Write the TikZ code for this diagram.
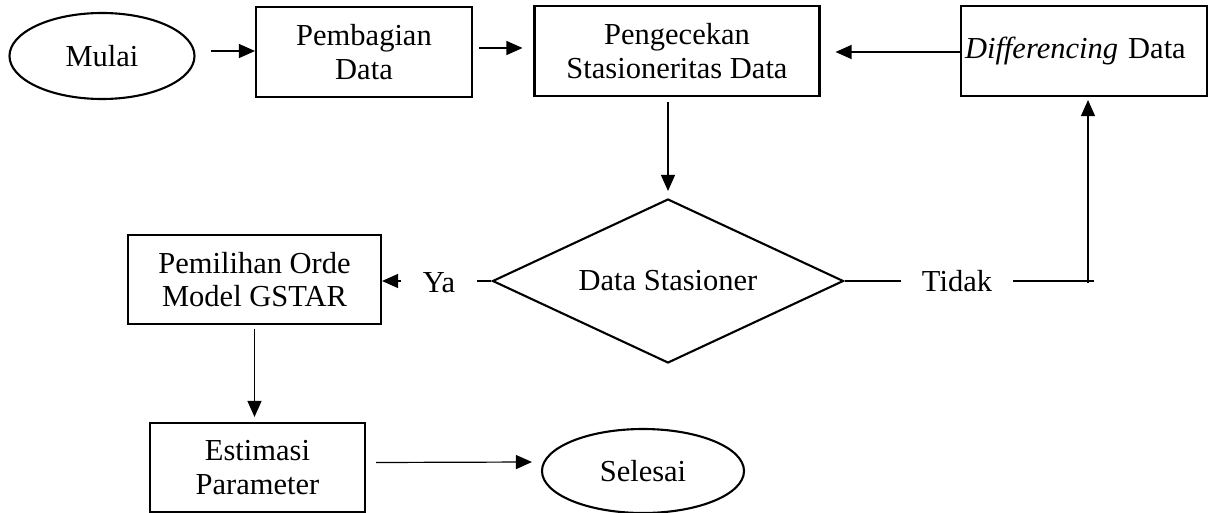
\documentclass[tikz,border=0pt]{standalone}
\usepackage{fontspec}
\setmainfont{Liberation Serif}
\usetikzlibrary{shapes.geometric,arrows.meta,calc}
\tikzset{
  txt/.style={font=\fontsize{30.5}{33.5}\selectfont, align=center, inner sep=0pt},
  procbox/.style={txt, draw, line width=2.1pt, rectangle},
  termin/.style={txt, draw, line width=2.1pt, ellipse},
  decis/.style={txt, draw, line width=2.1pt, diamond, shape aspect=2.14},
  conn/.style={line width=1.2pt},
  arr/.style={conn, -{Triangle[length=16pt,width=14pt]}},
  lbl/.style={txt, inner xsep=22pt}
}
\begin{document}
\begin{tikzpicture}[x=1pt,y=-1pt]
\useasboundingbox (0,0) rectangle (1212,513);
\node[termin, minimum width=185pt, minimum height=86pt] (mulai) at (102,56) {Mulai};
\node[procbox, minimum width=216pt, minimum height=90pt] (pembagian) at (364,52) {Pembagian\\Data};
\node[procbox, minimum width=285pt, minimum height=90pt] (pengecekan) at (677,51) {Pengecekan\\Stasioneritas Data};
\node[procbox, minimum width=246pt, minimum height=90pt, text width=238pt, align=left, inner xsep=4pt] (diff) at (1084,51) {\textit{Differencing} Data};
\node[decis, minimum width=351pt, minimum height=164pt] (dec) at (668,281) {Data Stasioner};
\node[procbox, minimum width=253pt, minimum height=89pt] (pemilihan) at (254.5,279.5) {Pemilihan Orde\\Model GSTAR};
\node[procbox, minimum width=215pt, minimum height=89pt] (estimasi) at (257.5,467.5) {Estimasi\\Parameter};
\node[termin, minimum width=202pt, minimum height=84pt] (selesai) at (643,471) {Selesai};
\node[lbl] (ya) at (439,283) {Ya};
\node[lbl, inner xsep=21pt] (tidak) at (957,281) {Tidak};
\coordinate (tend) at (1094,281);
\coordinate (corner) at (1088,283);

\draw[arr] ([xshift=15pt,yshift=5pt]mulai.east) -- ([yshift=1pt]pembagian.west);
\draw[arr] ([xshift=6pt,yshift=4pt]pembagian.east) -- ([xshift=-11pt,yshift=3pt]pengecekan.west);
\draw[arr] ([yshift=-1pt]diff.west) -- ([xshift=15pt,yshift=-1pt]pengecekan.east);
\draw[arr, shorten <=5pt, shorten >=7pt] (pengecekan.south -| dec.north) -- (dec.north);
\draw[conn] (dec.east) -- (tidak.west |- dec.east);
\draw[conn] (tidak.east |- dec.east) -- (tend);
\draw[arr, shorten >=3pt] (corner) -- (corner |- diff.south);
\draw[conn] (dec.west) -- (ya.east |- dec.west);
\draw[arr] (ya.west |- dec.west) -- (pemilihan.east |- dec.west);
\draw[arr, shorten <=4pt, shorten >=5pt] (pemilihan.south) -- (pemilihan.south |- estimasi.north);
\draw[arr] ([xshift=10pt,yshift=5pt]estimasi.east) -- ([xshift=-9pt,yshift=9pt]selesai.west);
\end{tikzpicture}
\end{document}
